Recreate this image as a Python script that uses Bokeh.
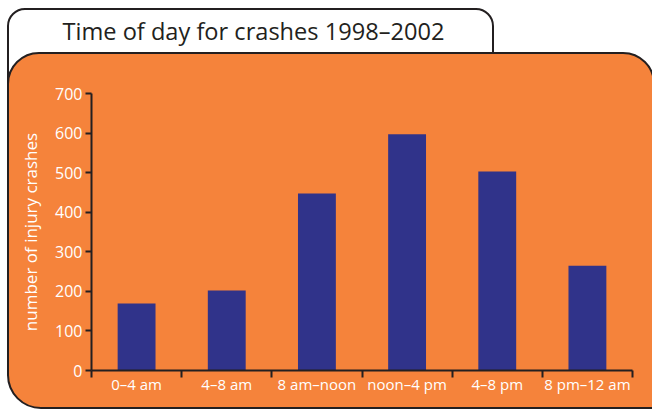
from bokeh.plotting import figure
from bokeh.models import Range1d, FixedTicker, Label
from bokeh.embed import file_html
from bokeh.resources import INLINE

# data
periods = ["0–4 am", "4–8 am", "8 am–noon", "noon–4 pm", "4–8 pm", "8 pm–12 am"]
crashes = [169, 202, 447, 597, 503, 265]
y_ticks = [0, 100, 200, 300, 400, 500, 600, 700]
title = "Time of day for crashes 1998–2002"

W, H = 652, 410
ORANGE = "#F5833B"
NAVY = "#30338A"
DARK = "#231F20"
FONT = "Open Sans"

x_pos = [i + 0.5 for i in range(len(periods))]

p = figure(
    width=W, height=H,
    x_range=Range1d(0, len(periods)), y_range=Range1d(0, 700),
    output_backend="svg", toolbar_location=None,
    min_border_left=91, min_border_right=20, min_border_top=93, min_border_bottom=40,
)
# transparent canvas, the tab and the orange panel are drawn behind it with css
p.border_fill_color = None
p.background_fill_color = None
p.outline_line_color = None
p.xgrid.grid_line_color = None
p.ygrid.grid_line_color = None

p.stylesheets = [f"""
:host {{ position: relative; overflow: hidden; }}
:host::before {{
  content: ""; position: absolute; z-index: -1; box-sizing: border-box;
  left: 7px; top: 8px; width: 487px; height: 100px;
  background: white; border: 2.5px solid {DARK}; border-radius: 18px 18px 0 0;
}}
:host::after {{
  content: ""; position: absolute; z-index: -1; box-sizing: border-box;
  left: 7px; top: 52px; width: 648px; height: 357px;
  background: {ORANGE}; border: 2.5px solid {DARK}; border-radius: 32px 32px 0 34px;
}}
"""]

# title text sits in the top panel so it is not clipped to the frame
p.add_layout(Label(
    x=62, y=30, x_units="canvas", y_units="canvas", text=title,
    text_font=FONT, text_font_size="23.6px", text_color=DARK, text_baseline="middle",
), "above")

p.vbar(x=x_pos, top=crashes, width=0.42, fill_color=NAVY, line_color=None)

# y axis
ya = p.yaxis[0]
ya.ticker = FixedTicker(ticks=y_ticks)
ya.axis_line_color = DARK
ya.axis_line_width = 2
ya.major_tick_line_color = DARK
ya.major_tick_line_width = 2
ya.major_tick_out = 6
ya.major_tick_in = 0
ya.minor_tick_line_color = None
ya.major_label_text_color = "white"
ya.major_label_text_font = FONT
ya.major_label_text_font_size = "16px"
ya.major_label_standoff = 3
ya.axis_label = "number of injury crashes"
ya.axis_label_text_color = "white"
ya.axis_label_text_font = FONT
ya.axis_label_text_font_size = "17px"
ya.axis_label_text_font_style = "normal"
ya.axis_label_standoff = 10

# x axis: labels centred, ticks on the category boundaries
xa = p.xaxis[0]
xa.ticker = FixedTicker(ticks=x_pos, minor_ticks=list(range(len(periods) + 1)))
xa.major_label_overrides = {x: lab for x, lab in zip(x_pos, periods)}
xa.axis_line_color = DARK
xa.axis_line_width = 2
xa.major_tick_line_color = None
xa.major_tick_out = 0
xa.major_tick_in = 0
xa.minor_tick_line_color = DARK
xa.minor_tick_line_width = 2
xa.minor_tick_out = 7
xa.minor_tick_in = 0
xa.major_label_text_color = "white"
xa.major_label_text_font = FONT
xa.major_label_text_font_size = "15px"
xa.major_label_standoff = -4

open("out.html", "w").write(file_html(p, INLINE))
